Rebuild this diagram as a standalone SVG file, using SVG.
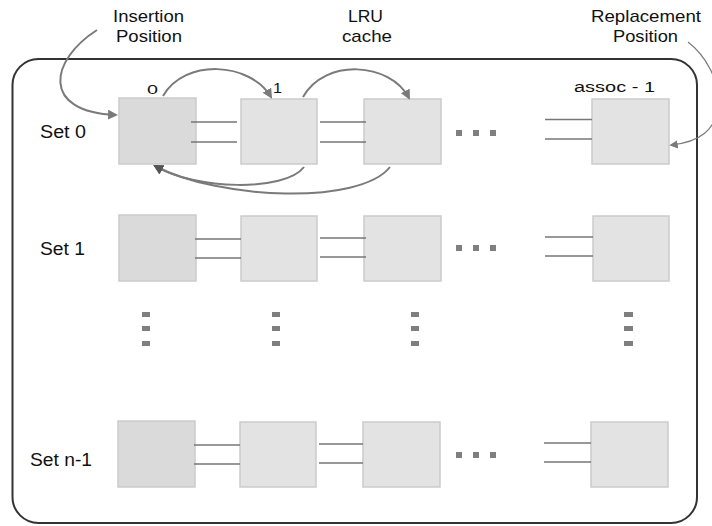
<svg xmlns="http://www.w3.org/2000/svg" width="712" height="526" viewBox="0 0 712 526">
  <style>
    .lbl { font-family: "Liberation Sans", Arial, sans-serif; fill: #111; }
    .cap { font-size: 17px; }
    .set { font-size: 18px; }
    .idx { font-size: 14px; }
    .head { fill: #dadada; stroke: #cbcbcb; stroke-width: 1.5; }
    .way { fill: #e3e3e3; stroke: #cbcbcb; stroke-width: 1.5; }
    .link { stroke: #777; stroke-width: 1.5; fill: none; }
    .arc { stroke: #7a7a7a; stroke-width: 2; fill: none; }
    .thin { stroke: #7a7a7a; stroke-width: 1.2; fill: none; }
    .dot { fill: #7f7f7f; }
  </style>
  <defs>
    <marker id="tip" viewBox="0 0 10 10" refX="8" refY="5" markerWidth="5" markerHeight="5" orient="auto">
      <path d="M0,0 L10,5 L0,10 z" fill="#7a7a7a"/>
    </marker>
    <marker id="tip-dark" viewBox="0 0 10 10" refX="8" refY="5" markerWidth="5" markerHeight="5" orient="auto">
      <path d="M0,0 L10,5 L0,10 z" fill="#555"/>
    </marker>
    <marker id="tip-thin" viewBox="0 0 10 10" refX="8" refY="5" markerWidth="7" markerHeight="7" orient="auto">
      <path d="M0,0 L10,5 L0,10 z" fill="#7a7a7a"/>
    </marker>
  </defs>

  <rect width="712" height="526" fill="#fff"/>

  <!-- cache frame -->
  <rect id="cache" x="12.5" y="59" width="684.5" height="464" rx="26" ry="26" fill="none" stroke="#333" stroke-width="2"/>

  <!-- captions -->
  <g id="caption-insertion">
    <text class="lbl cap" x="113" y="22" textLength="71" lengthAdjust="spacingAndGlyphs">Insertion</text>
    <text class="lbl cap" x="116" y="41.5" textLength="66" lengthAdjust="spacingAndGlyphs">Position</text>
  </g>
  <g id="caption-lru">
    <text class="lbl cap" x="348" y="22" textLength="35" lengthAdjust="spacingAndGlyphs">LRU</text>
    <text class="lbl cap" x="342" y="41.5" textLength="50" lengthAdjust="spacingAndGlyphs">cache</text>
  </g>
  <g id="caption-replacement">
    <text class="lbl cap" x="591" y="22" textLength="110" lengthAdjust="spacingAndGlyphs">Replacement</text>
    <text class="lbl cap" x="613" y="41.5" textLength="65" lengthAdjust="spacingAndGlyphs">Position</text>
  </g>

  <!-- way indices -->
  <g id="way-indices">
    <text class="lbl" x="147" y="94" font-size="13" textLength="11" lengthAdjust="spacingAndGlyphs">0</text>
    <text class="lbl" x="273" y="93" font-size="15" textLength="9" lengthAdjust="spacingAndGlyphs">1</text>
    <text class="lbl idx" x="574" y="92" textLength="81" lengthAdjust="spacingAndGlyphs">assoc - 1</text>
  </g>

  <!-- set 0 -->
  <g id="set0">
    <text class="lbl set" x="40" y="138" textLength="46" lengthAdjust="spacingAndGlyphs">Set 0</text>
    <rect id="set0-way0" class="head" x="119" y="98" width="77" height="66"/>
    <rect id="set0-way1" class="way" x="241" y="99" width="76" height="65"/>
    <rect id="set0-way2" class="way" x="364" y="99" width="77" height="65"/>
    <rect id="set0-wayN" class="way" x="592" y="99" width="77" height="65"/>
  </g>

  <!-- set 1 -->
  <g id="set1">
    <text class="lbl set" x="40" y="255" textLength="45" lengthAdjust="spacingAndGlyphs">Set 1</text>
    <rect id="set1-way0" class="head" x="119" y="215" width="77" height="66"/>
    <rect id="set1-way1" class="way" x="241" y="216" width="76" height="65"/>
    <rect id="set1-way2" class="way" x="364" y="216" width="77" height="65"/>
    <rect id="set1-wayN" class="way" x="593" y="216" width="76" height="65"/>
  </g>

  <!-- set n-1 -->
  <g id="setN">
    <text class="lbl set" x="30" y="466" textLength="62" lengthAdjust="spacingAndGlyphs">Set n-1</text>
    <rect id="setN-way0" class="head" x="118" y="421" width="77" height="66"/>
    <rect id="setN-way1" class="way" x="240" y="422" width="76" height="65"/>
    <rect id="setN-way2" class="way" x="363" y="422" width="77" height="65"/>
    <rect id="setN-wayN" class="way" x="591" y="422" width="77" height="65"/>
  </g>

  <!-- elision marks -->
  <g id="ellipses" class="dot">
    <rect x="456" y="130" width="6" height="6"/><rect x="473" y="130" width="6" height="6"/><rect x="490" y="130" width="6" height="6"/>
    <rect x="456" y="245" width="6" height="6"/><rect x="473" y="245" width="6" height="6"/><rect x="490" y="245" width="6" height="6"/>
    <rect x="456" y="452" width="6" height="6"/><rect x="473" y="452" width="6" height="6"/><rect x="490" y="452" width="6" height="6"/>
    <rect x="142" y="312" width="8" height="5"/><rect x="142" y="326" width="8" height="5"/><rect x="142" y="341" width="8" height="5"/>
    <rect x="272" y="312" width="8" height="5"/><rect x="272" y="326" width="8" height="5"/><rect x="272" y="341" width="8" height="5"/>
    <rect x="411" y="312" width="8" height="5"/><rect x="411" y="326" width="8" height="5"/><rect x="411" y="341" width="8" height="5"/>
    <rect x="624" y="312" width="9" height="5"/><rect x="624" y="326" width="9" height="5"/><rect x="624" y="341" width="9" height="5"/>
  </g>

  <!-- connectors -->
  <g id="connectors">
    <!-- set 0 links -->
    <path class="link" d="M191,122 H237 M191,142 H237"/>
    <path class="link" d="M320,122 H366 M320,142 H366"/>
    <path class="link" d="M545,119.5 H592 M545,139 H592"/>
    <!-- set 1 links -->
    <path class="link" d="M195,239 H241 M195,258 H241"/>
    <path class="link" d="M320,238 H366 M320,257 H366"/>
    <path class="link" d="M545,237 H593 M545,256 H593"/>
    <!-- set n-1 links -->
    <path class="link" d="M194,445 H240 M194,464 H240"/>
    <path class="link" d="M319,444 H363 M319,463 H363"/>
    <path class="link" d="M544,443 H591 M544,462 H591"/>

    <!-- insertion -->
    <path class="arc" d="M97,30 C50,60 40,112 116,115" marker-end="url(#tip)"/>
    <!-- promotions along set 0 -->
    <path class="arc" d="M163,96 C185,58 250,62 271,97" marker-end="url(#tip)"/>
    <path class="arc" d="M303,97 C325,58 390,62 409,98" marker-end="url(#tip)"/>
    <!-- moves back to the head -->
    <path class="arc" d="M304,167 C285,192 195,190 155,166" marker-end="url(#tip-dark)"/>
    <path class="arc" d="M390,167 C360,205 220,200 155,166" marker-end="url(#tip-dark)"/>
    <!-- replacement -->
    <path class="thin" d="M688,42 C705,55 720,80 718,105 C716,130 700,142 671,145" marker-end="url(#tip-thin)"/>
  </g>
</svg>
